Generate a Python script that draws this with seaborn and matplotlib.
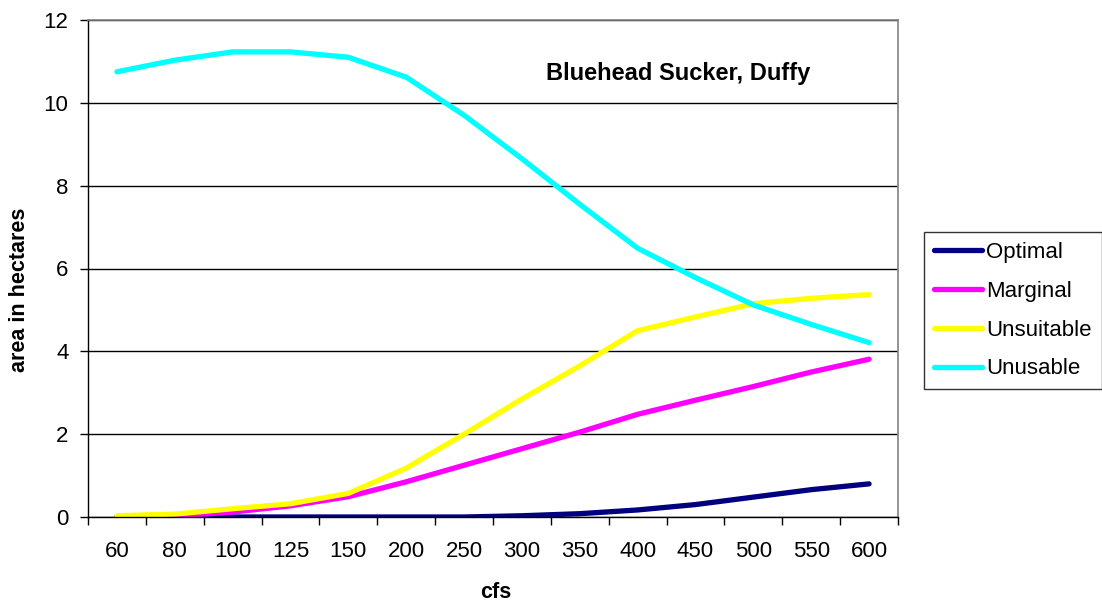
import numpy as np
import pandas as pd
import matplotlib
matplotlib.use('Agg')
import matplotlib.pyplot as plt
import seaborn as sns

cfs = ['60', '80', '100', '125', '150', '200', '250', '300', '350', '400',
       '450', '500', '550', '600']

optimal = [0.0, 0.0, 0.0, 0.0, 0.0, 0.0, 0.0, 0.03, 0.08, 0.17, 0.3, 0.48, 0.66, 0.8]
marginal = [0.0, 0.02, 0.12, 0.27, 0.49, 0.85, 1.25, 1.65, 2.05, 2.48, 2.82, 3.15, 3.5, 3.81]
unsuitable = [0.03, 0.07, 0.2, 0.32, 0.57, 1.18, 2.0, 2.85, 3.65, 4.5, 4.83, 5.15, 5.28, 5.37]
unusable = [10.75, 11.03, 11.23, 11.23, 11.1, 10.62, 9.7, 8.65, 7.55, 6.49, 5.78, 5.12, 4.65, 4.21]

series = ['Optimal', 'Marginal', 'Unsuitable', 'Unusable']
colors = ['#000080', '#FF00FF', '#FFFF00', '#00FFFF']

df = pd.DataFrame({'cfs': cfs * 4,
                   'area': optimal + marginal + unsuitable + unusable,
                   'series': np.repeat(series, len(cfs))})

sns.set_style('white')
plt.rcParams['font.family'] = ['Liberation Sans', 'DejaVu Sans']
plt.rcParams['text.color'] = 'black'
plt.rcParams['xtick.color'] = 'black'
plt.rcParams['ytick.color'] = 'black'

fig = plt.figure(figsize=(11.02, 6.07), dpi=100)
# plot area: x 88..898 px, y 20..517 px
ax = fig.add_axes([88 / 1102, 90 / 607, 810 / 1102, 497 / 607])

sns.lineplot(data=df, x='cfs', y='area', hue='series', hue_order=series,
             palette=colors, linewidth=3.8, ax=ax, legend=False,
             solid_capstyle='round')

ax.set_xlim(-0.5, len(cfs) - 0.5)
ax.set_ylim(0, 12)
ax.set_yticks(range(0, 13, 2))
ax.set_xticks(np.arange(len(cfs)))
ax.set_xticklabels(cfs)
ax.set_xticks(np.arange(-0.5, len(cfs), 1), minor=True)
ax.tick_params(axis='x', which='major', length=0, pad=17, labelsize=16,
               labelcolor='black')
ax.tick_params(axis='x', which='minor', length=6, width=1, color='black',
               direction='out', bottom=True)
ax.tick_params(axis='y', length=6, width=1, color='black', direction='out',
               left=True, labelsize=16, pad=8, labelcolor='black')
ax.yaxis.grid(True, color='black', linewidth=1)
ax.set_axisbelow(True)
for s in ['left', 'bottom']:
    ax.spines[s].set_color('black')
    ax.spines[s].set_linewidth(1)
for s in ['top', 'right']:
    ax.spines[s].set_color('#808080')
    ax.spines[s].set_linewidth(1.2)

ax.set_xlabel('')
ax.set_ylabel('')
fig.text(496 / 1102, 1 - 593 / 607, 'cfs', ha='center', va='center',
         fontsize=15.5, fontweight='bold', color='black')
fig.text(20 / 1102, 1 - 290 / 607, 'area in hectares', ha='center',
         va='center', rotation=90, fontsize=15.5, fontweight='bold',
         color='black')
ax.text(0.728, 0.893, 'Bluehead Sucker, Duffy', transform=ax.transAxes,
        ha='center', va='center', fontsize=17, fontweight='bold',
        color='black')

handles = [plt.Line2D([0], [0], color=c, linewidth=3.8, solid_capstyle='round')
           for c in colors]
leg = fig.legend(handles, series, loc='upper left',
                 bbox_to_anchor=(924 / 1102, 1 - 232 / 607), fontsize=16,
                 frameon=True, fancybox=False, edgecolor='black',
                 handlelength=2.15, handletextpad=0.2, labelspacing=0.8,
                 borderpad=0.45, borderaxespad=0)
leg.get_frame().set_linewidth(1)
for t in leg.get_texts():
    t.set_color('black')

fig.savefig('out.png', dpi=100)
